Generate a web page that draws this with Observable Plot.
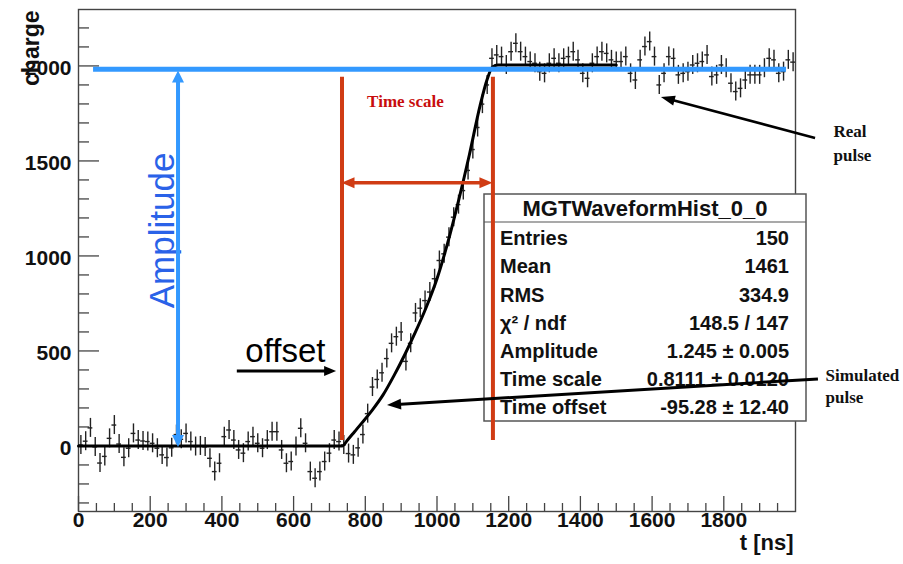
<!DOCTYPE html>
<html><head><meta charset="utf-8">
<script src="https://cdn.jsdelivr.net/npm/d3@7"></script>
<script src="https://cdn.jsdelivr.net/npm/@observablehq/plot@0.6"></script>
<style>
html,body{margin:0;padding:0;background:#fff;}
svg{display:block;}
</style></head><body><div id="chart"></div>
<script>
// ---------------- data ----------------
const binLow = 0, binHigh = 2000;          // histogram range, 150 bins
const charge = [
  5, 25, 95, -5, -90, -55, 40, 110, 10, -60,
  -12, 66, 31, 26, 23, 14, -12, -47, -61, -10,
  60, 35, 66, 23, -3, 0, -5, -65, -135, -91,
  49, 84, 31, -21, -38, 23, 49, 14, -12, 31,
  75, 75, -21, -91, -82, -3, 93, 14, -135, -170,
  -135, -82, -38, 31, 23, 5, -40, -47, -10,
  60, 170, 310, 350, 385, 460, 540, 575, 600, 445,
  540, 700, 725, 765, 810, 880, 976, 1011, 1099, 1204,
  1270, 1344, 1450, 1560, 1676, 1799, 1900,
  2040, 2058, 2049, 2005, 2075, 2119, 2075, 2049, 2023, 2014,
  1970, 1961, 2014, 2040, 2014, 2040, 2049, 2075, 2032, 1961,
  1935, 2014, 2049, 2075, 2066, 2032, 2023, 2023, 2049, 1961,
  1926, 2032, 2102, 2128, 2049, 1900, 1961, 2049, 2040, 1953,
  1961, 1970, 2005, 2014, 2023, 2058, 1944, 1953, 2005, 1988,
  1909, 1865, 1882, 1926, 1953, 1953, 1953, 1988, 2040, 2032,
  1961, 1970, 2032, 2020
];
const chargeError = 50;

const fitTime   = [0, 736, 750, 770, 790, 820, 850, 880, 910, 940, 970, 1000, 1030, 1060, 1090, 1120, 1140, 1155, 1170, 1500];
const fitCharge = [0, 0, 30, 75, 120, 190, 270, 370, 480, 600, 730, 880, 1070, 1290, 1530, 1790, 1930, 1995, 2005, 2005];

const xMajorTicks = [0, 200, 400, 600, 800, 1000, 1200, 1400, 1600, 1800];
const yMajorTicks = [0, 500, 1000, 1500, 2000];
const xLabel = "t [ns]";
const yLabel = "charge";

const statsTitle = "MGTWaveformHist_0_0";
const statsLabels = ["Entries", "Mean", "RMS", "χ² / ndf", "Amplitude", "Time scale", "Time offset"];
const statsValues = ["150", "1461", "334.9", "148.5 / 147", "1.245 ± 0.005", "0.8111 ± 0.0120", "-95.28 ± 12.40"];

// annotation anchors (data coordinates)
const levelLine = [{t1: 42, t2: 1975, v: 1982}];
const markerLines = [{t: 735, v1: 29, v2: 1940}, {t: 1156, v1: 29, v2: 1940}];
const arrows = [
  {id: "amplitude", t1: 279, v1: 1973, t2: 279, v2: -8, both: true},
  {id: "timescale", t1: 735, v1: 1382, t2: 1156, v2: 1382, both: true},
  {id: "offset", t1: 443, v1: 392, t2: 720, v2: 392, both: false},
  {id: "simulated", t1: 2064, v1: 350, t2: 862, v2: 213, both: false},
  {id: "real", t1: 2056, v1: 1618, t2: 1626, v2: 1834, both: false}
];
const blueTexts = [{text: "Amplitude", t: 234, v: 1134}];
const offsetTexts = [{text: "offset", t: 577, v: 497}];
const redTexts = [{text: "Time scale", t: 912, v: 1813}];
const noteTexts = [
  {text: "Real", t: 2106, v: 1655},
  {text: "pulse", t: 2106, v: 1529},
  {text: "Simulated", t: 2084, v: 371},
  {text: "pulse", t: 2084, v: 255}
];

// ---------------- styles ----------------
const W = 903, H = 564, mL = 78, mR = 108, mT = 9, mB = 53;
const frameW = W - mL - mR, frameH = H - mT - mB;
const sans = "'Liberation Sans', Arial, Helvetica, sans-serif";
const serif = "'Liberation Serif', 'Times New Roman', serif";
const BLUE = "#3399ff", RED = "#d03c14", AXIS = "#444";
const arrowStyle = {
  amplitude: {color: BLUE, w: 4, hl: 12, hw: 12},
  timescale: {color: RED, w: 3.5, hl: 13, hw: 11},
  offset: {color: "#000", w: 3, hl: 12, hw: 10},
  simulated: {color: "#000", w: 3, hl: 14, hw: 11},
  real: {color: "#000", w: 2.5, hl: 14, hw: 10}
};

const bw = (binHigh - binLow) / charge.length;
const points = charge.map((v, i) => ({t: binLow + (i + 0.5) * bw, v}));
const fit = fitTime.map((t, i) => ({t, v: fitCharge[i]}));

const xMinor = d3.range(0, 2000, 50).filter(d => !xMajorTicks.includes(d));
const yMinor = d3.range(-300, 2300, 100).filter(d => !yMajorTicks.includes(d));

function statsBox(index, scales, values, dims) {
  const right = dims.width - dims.marginRight;
  const x0 = right - 311, x1 = right + 11;
  const y0 = dims.marginTop + 185, y1 = dims.marginTop + 412;
  const g = d3.create("svg:g");
  g.append("rect").attr("x", x0).attr("y", y0).attr("width", x1 - x0).attr("height", y1 - y0)
    .attr("fill", "white").attr("stroke", "#555").attr("stroke-width", 1.5);
  g.append("line").attr("x1", x0).attr("x2", x1).attr("y1", y0 + 28).attr("y2", y0 + 28)
    .attr("stroke", "#555").attr("stroke-width", 1.2);
  g.append("text").attr("x", (x0 + x1) / 2).attr("y", y0 + 14).attr("dy", "0.36em")
    .attr("text-anchor", "middle").attr("font-family", sans).attr("font-weight", "bold")
    .attr("font-size", 22).attr("fill", "#111").text(statsTitle);
  statsLabels.forEach((lab, i) => {
    const y = y0 + 44 + i * 28.2;
    g.append("text").attr("x", x0 + 16).attr("y", y).attr("dy", "0.36em")
      .attr("text-anchor", "start").attr("font-family", sans).attr("font-weight", "bold")
      .attr("font-size", 20).attr("fill", "#111").text(lab);
    g.append("text").attr("x", x1 - 17).attr("y", y).attr("dy", "0.36em")
      .attr("text-anchor", "end").attr("font-family", sans).attr("font-weight", "bold")
      .attr("font-size", 20).attr("fill", "#111").text(statsValues[i]);
  });
  return g.node();
}

function arrowLayer(list) {
  return (index, scales) => {
    const g = d3.create("svg:g");
    for (const a of list) {
      const s = arrowStyle[a.id];
      const x1 = scales.x(a.t1), y1 = scales.y(a.v1), x2 = scales.x(a.t2), y2 = scales.y(a.v2);
      const dx = x2 - x1, dy = y2 - y1, L = Math.hypot(dx, dy), ux = dx / L, uy = dy / L;
      const back = s.hl * 0.7;
      const sx1 = a.both ? x1 + ux * back : x1, sy1 = a.both ? y1 + uy * back : y1;
      g.append("line").attr("x1", sx1).attr("y1", sy1)
        .attr("x2", x2 - ux * back).attr("y2", y2 - uy * back)
        .attr("stroke", s.color).attr("stroke-width", s.w);
      const heads = a.both ? [[x2, y2, ux, uy], [x1, y1, -ux, -uy]] : [[x2, y2, ux, uy]];
      for (const [tx, ty, vx, vy] of heads) {
        const bx = tx - vx * s.hl, by = ty - vy * s.hl, px = -vy * s.hw / 2, py = vx * s.hw / 2;
        g.append("path").attr("d", `M${tx},${ty}L${bx + px},${by + py}L${bx - px},${by - py}Z`)
          .attr("fill", s.color);
      }
    }
    return g.node();
  };
}

const plot = Plot.plot({
  width: W, height: H,
  marginLeft: mL, marginRight: mR, marginTop: mT, marginBottom: mB,
  x: {domain: [0, 2000], axis: null},
  y: {domain: [-345, 2297], axis: null},
  style: {background: "white", fontFamily: sans, overflow: "visible"},
  marks: [
    Plot.frame({stroke: AXIS, strokeWidth: 1.4}),
    // ticks (ROOT style, inward)
    Plot.ruleX(xMajorTicks, {x: d => d, insetTop: frameH - 15, stroke: AXIS, strokeWidth: 1.3}),
    Plot.ruleX(xMinor, {x: d => d, insetTop: frameH - 8, stroke: AXIS, strokeWidth: 1.3}),
    Plot.ruleY(yMajorTicks, {y: d => d, insetRight: frameW - 21, stroke: AXIS, strokeWidth: 1.3}),
    Plot.ruleY(yMinor, {y: d => d, insetRight: frameW - 11, stroke: AXIS, strokeWidth: 1.3}),
    Plot.text(xMajorTicks, {x: d => d, text: d => String(d), frameAnchor: "bottom", dy: 15,
      fontSize: 21, fontWeight: "bold", fill: "#111"}),
    Plot.text(yMajorTicks, {y: d => d, text: d => String(d), frameAnchor: "left", textAnchor: "end",
      dx: -7, dy: 2, fontSize: 21, fontWeight: "bold", fill: "#111"}),
    Plot.text([yLabel], {text: d => d, frameAnchor: "top-left", rotate: -90, textAnchor: "end",
      dx: -56, dy: 1, fontSize: 23, fontWeight: "bold", fill: "#111"}),
    Plot.text([xLabel], {text: d => d, frameAnchor: "bottom-right", textAnchor: "end",
      dx: -2, dy: 38, fontSize: 22, fontWeight: "bold", fill: "#111"}),
    // histogram with errors
    Plot.ruleX(points, {x: "t", y1: d => d.v - chargeError, y2: d => d.v + chargeError, stroke: "#222", strokeWidth: 1.4}),
    Plot.ruleY(points, {y: "v", x1: d => d.t - bw / 2, x2: d => d.t + bw / 2, stroke: "#222", strokeWidth: 1.4}),
    // fit
    Plot.line(fit, {x: "t", y: "v", curve: "monotone-x", stroke: "#000", strokeWidth: 3}),
    // amplitude annotation
    Plot.ruleY(levelLine, {y: "v", x1: "t1", x2: "t2", stroke: BLUE, strokeWidth: 5}),
    Plot.text(blueTexts, {x: "t", y: "v", text: "text", rotate: -90, fontSize: 35,
      fontFamily: sans, fill: "#2a62e8"}),
    // stats box
    statsBox,
    // time scale annotation
    Plot.ruleX(markerLines, {x: "t", y1: "v1", y2: "v2", stroke: RED, strokeWidth: 4}),
    Plot.text(redTexts, {x: "t", y: "v", text: "text", fontSize: 17, fontWeight: "bold",
      fontFamily: serif, fill: "#c80d0d"}),
    arrowLayer(arrows),
    Plot.text(offsetTexts, {x: "t", y: "v", text: "text", fontSize: 33, fontFamily: sans, fill: "#000"}),
    Plot.text(noteTexts, {x: "t", y: "v", text: "text", textAnchor: "start", fontSize: 17,
      fontWeight: "bold", fontFamily: serif, fill: "#111"})
  ]
});
document.getElementById("chart").appendChild(plot);
</script>
</body></html>
